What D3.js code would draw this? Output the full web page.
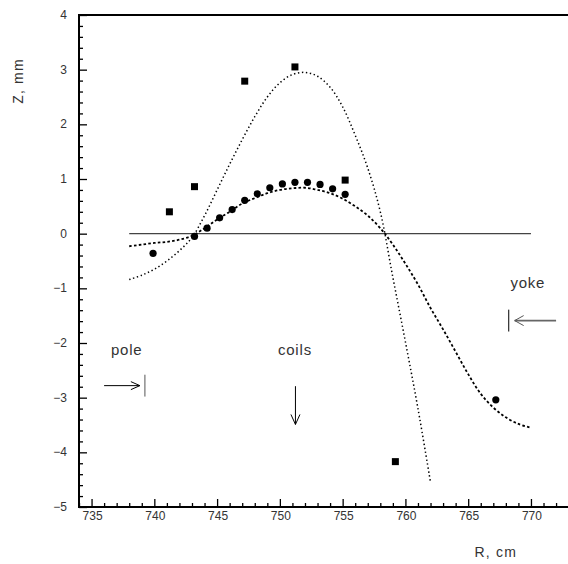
<!DOCTYPE html>
<html>
<head>
<meta charset="utf-8">
<script src="https://cdn.jsdelivr.net/npm/d3@7"></script>
<style>
  body { margin: 0; background: #fff; }
  text { font-family: "Liberation Sans", Arial, sans-serif; fill: #333; }
</style>
</head>
<body>
<div class="canvas"></div>
<script>
// measured points (squares and circles)
const sqR = [741.2, 743.2, 747.2, 751.2, 755.2, 759.2];
const sqZ = [0.40, 0.86, 2.79, 3.05, 0.98, -4.17];

const cR = [739.9, 743.2, 744.2, 745.2, 746.2, 747.2, 748.2, 749.2, 750.2, 751.2, 752.2, 753.2, 754.2, 755.2, 767.2];
const cZ = [-0.36, -0.05, 0.10, 0.29, 0.44, 0.61, 0.73, 0.84, 0.91, 0.94, 0.94, 0.90, 0.82, 0.72, -3.04];

// dotted curve (through squares)
const dotR = [738, 739, 740, 741, 742, 743, 744, 745, 746, 747, 748, 749, 750, 751, 752, 753, 754, 755, 756, 757, 758, 759, 760, 761, 762];
const dotZ = [-0.84, -0.76, -0.65, -0.50, -0.31, -0.07, 0.33, 0.80, 1.27, 1.72, 2.14, 2.50, 2.76, 2.91, 2.95, 2.88, 2.68, 2.32, 1.80, 1.20, 0.40, -0.80, -1.98, -3.20, -4.55];

// dashed curve (through circles)
const dashR = [738, 739, 740, 741, 742, 743, 744, 745, 746, 747, 748, 749, 750, 751, 752, 753, 754, 755, 756, 757, 758, 759, 760, 761, 762, 763, 764, 765, 766, 767, 768, 769, 770];
const dashZ = [-0.23, -0.20, -0.17, -0.15, -0.11, -0.04, 0.10, 0.26, 0.40, 0.55, 0.65, 0.74, 0.80, 0.83, 0.84, 0.80, 0.74, 0.64, 0.50, 0.33, 0.10, -0.20, -0.55, -0.93, -1.36, -1.75, -2.16, -2.57, -2.93, -3.18, -3.36, -3.48, -3.55];

const xTicks = [735, 740, 745, 750, 755, 760, 765, 770];
const yTicks = [-5, -4, -3, -2, -1, 0, 1, 2, 3, 4];

const W = 568, H = 564;
const svg = d3.select('.canvas').append('svg')
    .attr('width', W)
    .attr('height', H);

const x = d3.scaleLinear().domain([734, 772.95]).range([79, 568]);
const y = d3.scaleLinear().domain([-5, 4]).range([507, 15]);

// frame: top line
svg.append('line')
    .attr('x1', 79).attr('x2', W)
    .attr('y1', 15).attr('y2', 15)
    .attr('stroke', '#000').attr('stroke-width', 2);

// x axis (ticks pointing up)
const xAxis = d3.axisTop(x)
    .tickValues(d3.range(734, 773, 1))
    .tickSize(4)
    .tickFormat('');
const xg = svg.append('g').attr('transform', `translate(0,${y(-5)})`).call(xAxis);
xg.selectAll('.tick line')
    .attr('y2', d => xTicks.includes(d) ? -8 : -4)
    .attr('stroke', '#000').attr('stroke-width', 1.3);
xg.select('.domain').remove();
svg.append('line')
    .attr('x1', 78).attr('x2', W)
    .attr('y1', y(-5)).attr('y2', y(-5))
    .attr('stroke', '#000').attr('stroke-width', 2);

svg.append('g').selectAll('text')
    .data(xTicks)
    .join('text')
    .attr('x', d => x(d) + 1)
    .attr('y', 520)
    .attr('text-anchor', 'middle')
    .attr('font-size', 12)
    .text(d => d);

// y axis (ticks pointing right)
const yAxis = d3.axisRight(y)
    .tickValues(d3.range(-5, 4.01, 0.2).map(v => Math.round(v * 10) / 10))
    .tickSize(4)
    .tickFormat('');
const yg = svg.append('g').attr('transform', `translate(${x(734)},0)`).call(yAxis);
yg.selectAll('.tick line')
    .attr('x2', d => Number.isInteger(d) ? 8 : 4)
    .attr('stroke', '#000').attr('stroke-width', 1.3);
yg.select('.domain').remove();
svg.append('line')
    .attr('x1', 79).attr('x2', 79)
    .attr('y1', 14).attr('y2', 508)
    .attr('stroke', '#000').attr('stroke-width', 2);

svg.append('g').selectAll('text')
    .data(yTicks)
    .join('text')
    .attr('x', 67)
    .attr('y', d => y(d) + 4)
    .attr('text-anchor', 'end')
    .attr('font-size', 12)
    .text(d => d < 0 ? '\u2212' + Math.abs(d) : d);

// axis titles
svg.append('text')
    .attr('x', 517).attr('y', 557)
    .attr('text-anchor', 'end')
    .attr('font-size', 14)
    .attr('letter-spacing', 1.2)
    .text('R, cm');
svg.append('text')
    .attr('transform', 'translate(23,81) rotate(-90)')
    .attr('text-anchor', 'middle')
    .attr('font-size', 14)
    .attr('letter-spacing', 1.2)
    .text('Z, mm');

// zero line
svg.append('line')
    .attr('x1', x(738)).attr('x2', x(770))
    .attr('y1', y(0)).attr('y2', y(0))
    .attr('stroke', '#444').attr('stroke-width', 1.2);

// curves
const line = d3.line()
    .x(d => x(d[0]))
    .y(d => y(d[1]))
    .curve(d3.curveCatmullRom);

svg.append('path')
    .datum(dotR.map((r, i) => [r, dotZ[i]]))
    .attr('d', line)
    .attr('fill', 'none')
    .attr('stroke', '#000')
    .attr('stroke-width', 1.5)
    .attr('stroke-dasharray', '1.4,2.6');

svg.append('path')
    .datum(dashR.map((r, i) => [r, dashZ[i]]))
    .attr('d', line)
    .attr('fill', 'none')
    .attr('stroke', '#000')
    .attr('stroke-width', 1.8)
    .attr('stroke-dasharray', '2.6,2.2');

// markers
svg.append('g').selectAll('rect')
    .data(sqR.map((r, i) => [r, sqZ[i]]))
    .join('rect')
    .attr('x', d => x(d[0]) - 3.5)
    .attr('y', d => y(d[1]) - 3.5)
    .attr('width', 7).attr('height', 7)
    .attr('fill', '#000');

svg.append('g').selectAll('circle')
    .data(cR.map((r, i) => [r, cZ[i]]))
    .join('circle')
    .attr('cx', d => x(d[0]))
    .attr('cy', d => y(d[1]))
    .attr('r', 3.6)
    .attr('fill', '#000');

// annotations
const ann = svg.append('g').attr('fill', 'none').attr('stroke', '#000').attr('stroke-width', 1);

// pole
svg.append('text').attr('x', x(737.8)).attr('y', y(-2.13) + 5)
    .attr('text-anchor', 'middle').attr('font-size', 15).attr('letter-spacing', 0.8).text('pole');
ann.append('line').attr('x1', x(736.0)).attr('x2', x(738.85)).attr('y1', y(-2.78)).attr('y2', y(-2.78));
ann.append('path').attr('d', `M${x(738.85) - 9},${y(-2.78) - 4}L${x(738.85)},${y(-2.78)}L${x(738.85) - 9},${y(-2.78) + 4}`);
ann.append('line').attr('x1', x(739.25)).attr('x2', x(739.25)).attr('y1', y(-2.58)).attr('y2', y(-2.98)).attr('stroke', '#555');

// coils
svg.append('text').attr('x', x(751.2)).attr('y', y(-2.12) + 5)
    .attr('text-anchor', 'middle').attr('font-size', 15).attr('letter-spacing', 0.8).text('coils');
ann.append('line').attr('x1', x(751.24)).attr('x2', x(751.24)).attr('y1', y(-2.79)).attr('y2', y(-3.49));
ann.append('path').attr('d', `M${x(751.24) - 4.5},${y(-3.49) - 10}L${x(751.24)},${y(-3.49)}L${x(751.24) + 4.5},${y(-3.49) - 10}`);

// yoke
svg.append('text').attr('x', x(769.75)).attr('y', y(-0.9) + 5)
    .attr('text-anchor', 'middle').attr('font-size', 15).attr('letter-spacing', 0.8).text('yoke');
ann.append('line').attr('x1', x(768.23)).attr('x2', x(768.23)).attr('y1', y(-1.39)).attr('y2', y(-1.79));
ann.append('line').attr('x1', x(772.0)).attr('x2', x(768.7)).attr('y1', y(-1.59)).attr('y2', y(-1.59))
    .attr('stroke', '#666').attr('stroke-width', 1.8);
ann.append('path').attr('d', `M${x(768.7) + 9},${y(-1.59) - 5}L${x(768.7)},${y(-1.59)}L${x(768.7) + 9},${y(-1.59) + 5}`)
    .attr('stroke', '#555');
</script>
</body>
</html>
